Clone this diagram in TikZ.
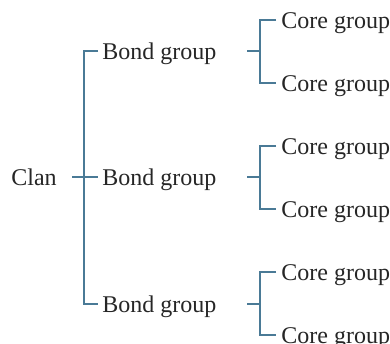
\documentclass[tikz,border=0pt]{standalone}
\usepackage{fontspec}
\setmainfont{Liberation Serif}
\definecolor{linkblue}{RGB}{74,122,150}
\begin{document}
\begin{tikzpicture}[x=0.5pt,y=-0.5pt,
  lbl/.style={anchor=west,inner sep=0pt,text height=8pt,text depth=0pt,font=\fontsize{12}{14}\selectfont,text=black!85},
  link/.style={draw=linkblue,line width=0.75pt}]
\useasboundingbox (0,0) rectangle (390,343);
\node[lbl] (clan) at (11,177) {Clan};
\node[lbl] (b1) at (102,51) {Bond group};
\node[lbl] (b2) at (102,177) {Bond group};
\node[lbl] (b3) at (102,304) {Bond group};
\node[lbl] (c1) at (281,20) {Core group};
\node[lbl] (c2) at (281,83) {Core group};
\node[lbl] (c3) at (281,146) {Core group};
\node[lbl] (c4) at (281,209) {Core group};
\node[lbl] (c5) at (281,272) {Core group};
\node[lbl] (c6) at (281,335) {Core group};
% clan to bond groups
\draw[link] ([xshift=7.5pt]clan.east) -- ([xshift=-2pt]b2.west);
\draw[link] ([xshift=-2pt]b1.west) -- ([xshift=-9pt]b1.west) -- ([xshift=-9pt]b3.west) -- ([xshift=-2pt]b3.west);
% bond groups to core groups
\foreach \b/\u/\l in {b1/c1/c2,b2/c3/c4,b3/c5/c6}{
  \draw[link] ([xshift=-10.5pt]\u.west |- \b.west) -- ([xshift=-17pt]\u.west |- \b.west);
  \draw[link] ([xshift=-2.5pt]\u.west) -- ([xshift=-10.5pt]\u.west) -- ([xshift=-10.5pt]\l.west) -- ([xshift=-2.5pt]\l.west);
}
\end{tikzpicture}
\end{document}
